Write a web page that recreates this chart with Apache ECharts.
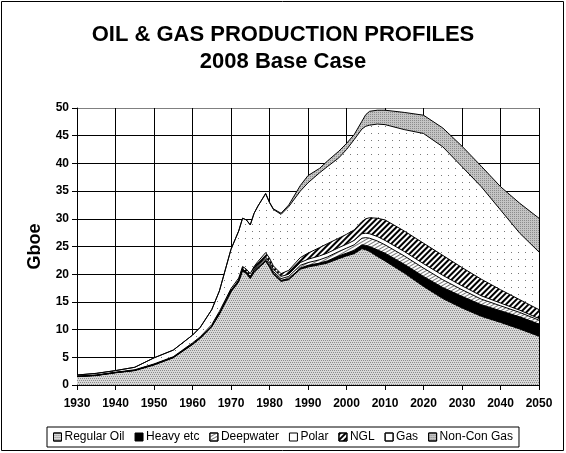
<!DOCTYPE html>
<html>
<head>
<meta charset="utf-8">
<script src="https://cdn.jsdelivr.net/npm/echarts@6/dist/echarts.min.js"></script>
<style>
html,body{margin:0;padding:0;background:#fff;}
#c{width:566px;height:453px;}
</style>
</head>
<body>
<div id="c"></div>
<script>
var years = [1930,1935,1940,1945,1950,1955,1960,1962,1965,1967,1970,1972,1973,1974,1975,1976,1977,1979,1980,1981,1983,1985,1988,1990,1993,1995,1998,2000,2002,2004,2005,2006,2008,2010,2015,2020,2025,2030,2035,2040,2045,2050];
var regularOil = [1.5,1.7,2.2,2.6,3.6,4.9,7.3,8.4,10.5,12.8,16.8,18.6,20.6,20.1,19.2,20.3,21.0,22.3,21.3,20.0,18.7,19.0,20.9,21.3,21.7,22.0,22.8,23.3,23.7,24.6,24.4,24.1,23.2,22.4,20.2,17.8,15.6,13.9,12.4,11.3,10.1,8.8];
var heavyEtc   = [0.05,0.05,0.05,0.05,0.1,0.1,0.1,0.1,0.1,0.1,0.2,0.2,0.2,0.2,0.2,0.2,0.2,0.2,0.2,0.2,0.2,0.2,0.2,0.3,0.3,0.4,0.5,0.5,0.6,0.7,0.8,0.9,1.2,1.4,1.6,1.8,2.0,2.1,2.1,2.1,2.2,2.2];
var deepwater  = [0,0,0,0,0,0,0,0,0,0,0,0.1,0.1,0.1,0.1,0.2,0.2,0.3,0.3,0.3,0.3,0.4,0.5,0.5,0.6,0.7,0.8,0.9,1.0,1.2,1.4,1.5,1.6,1.5,1.5,1.5,1.4,1.2,1.0,0.9,0.8,0.7];
var polar      = [0,0,0,0,0,0,0,0,0,0,0,0,0,0,0.1,0.1,0.2,0.3,0.4,0.4,0.4,0.4,0.5,0.6,0.7,0.7,0.7,0.7,0.8,0.8,0.8,0.8,0.8,0.8,0.8,0.8,0.8,0.7,0.6,0.5,0.4,0.3];
var ngl        = [0.05,0.05,0.05,0.1,0.1,0.1,0.2,0.2,0.3,0.4,0.4,0.4,0.5,0.5,0.5,0.6,0.7,0.8,0.7,0.6,0.5,0.7,0.9,1.1,1.5,1.7,1.7,1.8,1.9,2.2,2.6,2.9,3.3,3.7,3.7,3.7,3.6,3.3,3.0,2.4,1.9,1.6];
var gas        = [0.2,0.3,0.3,0.45,1.1,1.2,1.4,1.7,2.7,3.7,7.1,8.5,8.7,8.9,8.8,9.6,10.0,10.6,10.0,10.2,10.7,11.5,12.0,12.7,13.5,13.9,14.5,15.3,16.3,16.7,16.7,16.7,17.0,17.2,18.3,19.8,19.6,18.2,16.7,14.4,12.0,10.4];
var nonConGas  = [0,0,0,0,0,0,0,0,0,0,0,0,0,0,0,0,0,0.1,0.1,0.1,0.2,0.3,1.0,1.3,0.8,1.0,1.2,1.1,0.9,1.4,2.1,2.5,2.5,2.6,3.1,3.3,3.4,3.7,3.7,4.2,5.4,6.1];
var seriesNames = ['Regular Oil','Heavy etc','Deepwater','Polar','NGL','Gas','Non-Con Gas'];
var xTicks = {min:1930, max:2050, interval:10};
var yTicks = {min:0, max:50, interval:5};

var seriesValues = [regularOil, heavyEtc, deepwater, polar, ngl, gas, nonConGas];

// cumulative tops (stacked in code); drawn from the top layer down so lower layers overlay
var running = years.map(function(){ return 0; });
var cumulative = seriesValues.map(function(vals){
  running = running.map(function(r, i){ return Math.round((r + vals[i]) * 100) / 100; });
  return running.slice();
});

var styles = [
  {color:'#d8d8d8', decal:{symbol:'rect', symbolSize:1, dashArrayX:[[1,1],[0,1,1,0]], dashArrayY:[1,1], color:'#8a8a8a'}},
  {color:'#000000', decal:null},
  {color:'#ffffff', decal:{symbol:'rect', symbolSize:1, dashArrayX:[[1,0]], dashArrayY:[1,2], rotation:-Math.PI/6, color:'#777'}},
  {color:'#ffffff', decal:null},
  {color:'#ffffff', decal:{symbol:'rect', symbolSize:1, dashArrayX:[[1,0]], dashArrayY:[2,2], rotation:-Math.PI/4, color:'#000'}},
  {color:'#ffffff', decal:{symbol:'rect', symbolSize:1, dashArrayX:[[1,6]], dashArrayY:[1,6], color:'#777'}},
  {color:'#c4c4c4', decal:{symbol:'rect', symbolSize:1, dashArrayX:[[1,1]], dashArrayY:[1,1], color:'#8c8c8c'}}
];

var series = [];
for (var i = seriesNames.length - 1; i >= 0; i--) {
  (function(i){
    var st = styles[i];
    var itemStyle = {color: st.color, borderColor:'#000', borderWidth:1};
    var areaStyle = {color: st.color, opacity:1};
    if (st.decal) { itemStyle.decal = st.decal; areaStyle.decal = st.decal; }
    series.push({
      name: seriesNames[i], type:'line', symbol:'none', smooth:false,
      data: years.map(function(y, j){ return [y, cumulative[i][j]]; }),
      lineStyle:{color:'#000', width:1},
      areaStyle: areaStyle,
      itemStyle: itemStyle
    });
  })(i);
}

var chart = echarts.init(document.getElementById('c'), null, {renderer:'canvas'});
var gridLineColors = [];
for (var k=0;k<10;k++) gridLineColors.push('#000');
gridLineColors.push('#808080');

chart.setOption({
  backgroundColor:'#fff',
  animation:false,
  title:[
    {text:'OIL & GAS PRODUCTION PROFILES', left:'center', top:19, textStyle:{fontFamily:'Liberation Sans', fontWeight:'bold', fontSize:22, color:'#000'}},
    {text:'2008 Base Case', left:'center', top:46, textStyle:{fontFamily:'Liberation Sans', fontWeight:'bold', fontSize:22, color:'#000'}}
  ],
  grid:{left:77, right:27, top:108, bottom:68, containLabel:false},
  xAxis:{type:'value', min:xTicks.min, max:xTicks.max, interval:xTicks.interval,
    axisLine:{show:true, lineStyle:{color:'#000', width:1}},
    axisTick:{show:true, length:5, lineStyle:{color:'#000'}},
    axisLabel:{color:'#000', fontFamily:'Liberation Sans', fontWeight:'bold', fontSize:12, margin:13, formatter:function(v){ return String(v); }},
    splitLine:{show:true, lineStyle:{color:'#000', width:1}}
  },
  yAxis:{type:'value', min:yTicks.min, max:yTicks.max, interval:yTicks.interval,
    name:'Gboe', nameLocation:'middle', nameGap:33, nameRotate:90,
    nameTextStyle:{fontFamily:'Liberation Sans', fontWeight:'bold', fontSize:18, color:'#000'},
    axisLine:{show:true, lineStyle:{color:'#000', width:1}},
    axisTick:{show:true, length:5, lineStyle:{color:'#000'}},
    axisLabel:{color:'#000', fontFamily:'Liberation Sans', fontWeight:'bold', fontSize:12, margin:8},
    splitLine:{show:true, lineStyle:{color:gridLineColors, width:1}}
  },
  legend:{
    bottom:6, left:'center', itemWidth:8, itemHeight:8, itemGap:10,
    icon:'rect',
    borderColor:'#000', borderWidth:1, padding:[4,6,4,6],
    textStyle:{fontFamily:'Liberation Sans', fontSize:12, color:'#000', padding:[0,0,0,-2]},
    itemStyle:{borderColor:'#000', borderWidth:1},
    data:seriesNames
  },
  graphic:[{type:'rect', shape:{x:1.5, y:1.5, width:562, height:449}, style:{fill:'none', stroke:'#000', lineWidth:1}, silent:true, z:100}],
  series: series
});
</script>
</body>
</html>
